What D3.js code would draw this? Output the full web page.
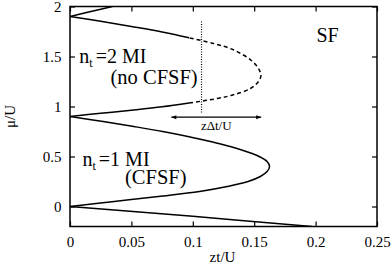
<!DOCTYPE html>
<html>
<head>
<meta charset="utf-8">
<script src="https://cdn.jsdelivr.net/npm/d3@7"></script>
<style>
  html, body { margin: 0; padding: 0; background: #fff; }
  svg { display: block; }
  text { font-family: "Liberation Serif", "Times New Roman", serif; fill: #000; }
</style>
</head>
<body>
<svg id="chart" width="392" height="276"></svg>
<script>
// ---- data (zt/U, mu/U) ----
const xTicks = [0, 0.05, 0.1, 0.15, 0.2, 0.25];
const xTickLabels = ["0", "0.05", "0.1", "0.15", "0.2", "0.25"];
const yTicks = [0, 0.5, 1, 1.5, 2];
const yTickLabels = ["0", "0.5", "1", "1.5", "2"];

// n_t = 1 Mott lobe (solid)
const lobe1 = [
  [0, 0], [0.036, 0.05], [0.072, 0.1], [0.1055, 0.15], [0.128, 0.2], [0.145, 0.25],
  [0.155, 0.3], [0.1605, 0.35], [0.1625, 0.4], [0.1605, 0.45], [0.154, 0.5],
  [0.1435, 0.55], [0.1305, 0.6], [0.1145, 0.65], [0.096, 0.7], [0.0755, 0.75],
  [0.052, 0.8], [0.027, 0.85], [0, 0.9]
];
// n_t = 2 Mott lobe: solid lower part, dashed outer part, solid upper part
const lobe2Lower = [[0, 0.9], [0.025, 0.932], [0.05, 0.963], [0.075, 0.997], [0.097, 1.035]];
const lobe2Dashed = [
  [0.097, 1.035], [0.12, 1.08], [0.133, 1.117], [0.147, 1.18], [0.1535, 1.25], [0.1555, 1.31],
  [0.1535, 1.38], [0.147, 1.467], [0.133, 1.567], [0.117, 1.63], [0.097, 1.687]
];
const lobe2Upper = [[0.097, 1.687], [0.075, 1.745], [0.05, 1.8], [0.025, 1.852], [0, 1.9]];
// next lobe boundary at the top and the n=0 boundary at the bottom
const topCurve = [[0, 1.9], [0.017, 1.95], [0.0345, 2.0]];
const bottomCurve = [[0, 0], [0.1, -0.098], [0.197, -0.2]];
// vertical dotted marker and zΔt/U arrow
const dottedLine = [[0.1071, 1.85], [0.1071, 0.935]];
const arrowLine = [[0.0825, 0.893], [0.1557, 0.893]];

// ---- layout ----
const svg = d3.select("#chart");
const x = d3.scaleLinear().domain([0, 0.25]).range([70, 377]);
const y = d3.scaleLinear().domain([-0.2, 2]).range([226.5, 6.5]);
const [x0, x1] = x.range();
const [y0, y1] = y.range();

const defs = svg.append("defs");
defs.append("clipPath").attr("id", "plotclip")
  .append("rect").attr("x", x0).attr("y", y1).attr("width", x1 - x0).attr("height", y0 - y1);

function marker(id, orient) {
  defs.append("marker").attr("id", id)
    .attr("viewBox", "0 0 10 10").attr("refX", 10).attr("refY", 5)
    .attr("markerWidth", 6).attr("markerHeight", 5)
    .attr("markerUnits", "userSpaceOnUse")
    .attr("orient", orient)
    .append("path").attr("d", "M0,1 L10,5 L0,9 Z").attr("fill", "#000");
}
marker("arrowEnd", "auto");
marker("arrowStart", "auto-start-reverse");

// axes with inward ticks
const fmtX = d => xTickLabels[xTicks.indexOf(d)];
const fmtY = d => yTickLabels[yTicks.indexOf(d)];

const gx = svg.append("g").attr("transform", `translate(0,${y0})`)
  .call(d3.axisBottom(x).tickValues(xTicks).tickFormat(fmtX).tickSize(-5).tickSizeOuter(0).tickPadding(9.5));
const gxt = svg.append("g").attr("transform", `translate(0,${y1})`)
  .call(d3.axisTop(x).tickValues(xTicks).tickFormat("").tickSize(-5).tickSizeOuter(0));
const gy = svg.append("g").attr("transform", `translate(${x0},0)`)
  .call(d3.axisLeft(y).tickValues(yTicks).tickFormat(fmtY).tickSize(-5).tickSizeOuter(0).tickPadding(8.5));
const gyr = svg.append("g").attr("transform", `translate(${x1},0)`)
  .call(d3.axisRight(y).tickValues(yTicks).tickFormat("").tickSize(-5).tickSizeOuter(0));

[gx, gxt, gy, gyr].forEach(g => {
  g.select(".domain").remove();
  g.selectAll(".tick line").attr("stroke", "#000").attr("stroke-width", 1.2);
  g.selectAll("text").attr("font-size", 15).attr("font-family", "Liberation Serif, Times New Roman, serif").attr("fill", "#000");
});

// frame
svg.append("rect").attr("x", x0).attr("y", y1).attr("width", x1 - x0).attr("height", y0 - y1)
  .attr("fill", "none").attr("stroke", "#000").attr("stroke-width", 1.5);

// curves
const line = d3.line().x(d => x(d[0])).y(d => y(d[1])).curve(d3.curveCatmullRom.alpha(0.5));
const straight = d3.line().x(d => x(d[0])).y(d => y(d[1]));
const plot = svg.append("g").attr("clip-path", "url(#plotclip)");

function draw(data, gen, dash, width) {
  plot.append("path").datum(data).attr("d", gen)
    .attr("fill", "none").attr("stroke", "#000").attr("stroke-width", width)
    .attr("stroke-dasharray", dash);
}
draw(lobe1, line, null, 1.5);
draw(lobe2Lower, line, null, 1.5);
draw(lobe2Dashed, line, "4,3", 1.5);
draw(lobe2Upper, line, null, 1.5);
draw(topCurve, line, null, 1.5);
draw(bottomCurve, line, null, 1.5);
draw(dottedLine, straight, "1,1.5", 1.2);

svg.append("path").datum(arrowLine).attr("d", straight)
  .attr("fill", "none").attr("stroke", "#000").attr("stroke-width", 1.2)
  .attr("marker-end", "url(#arrowEnd)").attr("marker-start", "url(#arrowStart)");

// labels
svg.append("text").attr("x", x((arrowLine[0][0] + arrowLine[1][0]) / 2)).attr("y", 130)
  .attr("text-anchor", "middle").attr("font-size", 13).text("zΔt/U");

svg.append("text").attr("x", 316.5).attr("y", 41.5).attr("font-size", 20).text("SF");

function lobeLabel(xp, yp, num) {
  const t = svg.append("text").attr("x", xp).attr("y", yp).attr("font-size", 20);
  t.append("tspan").text("n");
  t.append("tspan").attr("font-size", 12).attr("dy", 4).text("t ");
  t.append("tspan").attr("dy", -4).text("=" + num + " MI");
}
lobeLabel(79.3, 62.7, 2);
svg.append("text").attr("x", 110.5).attr("y", 83.5).attr("font-size", 20.5).text("(no CFSF)");
lobeLabel(82.5, 166, 1);
svg.append("text").attr("x", 125).attr("y", 184).attr("font-size", 20.5).text("(CFSF)");

// axis titles
svg.append("text").attr("x", 222.5).attr("y", 262).attr("text-anchor", "middle").attr("font-size", 15).text("zt/U");
svg.append("text").attr("transform", `translate(15,${(y0 + y1) / 2}) rotate(-90)`)
  .attr("text-anchor", "middle").attr("font-size", 15).text("μ/U");
</script>
</body>
</html>
